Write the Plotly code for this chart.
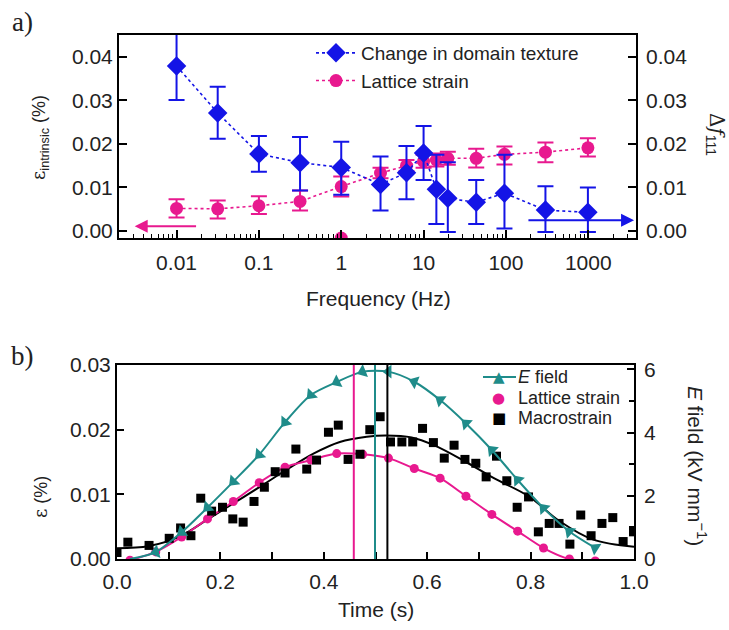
import math
import plotly.graph_objects as go

# ---------------- Panel a data ----------------
freq_domain = [0.01, 0.0316, 0.1, 0.316, 1.0, 3.0, 6.2, 10.0, 14.3, 19.7, 43.6, 96.0, 302.0, 990.0]
domain_texture = [0.0379, 0.0271, 0.0177, 0.0157, 0.0146, 0.0107, 0.0134, 0.0179, 0.0096, 0.0075, 0.0066, 0.0087, 0.0048, 0.0043]
domain_err_plus = [0.0078, 0.0060, 0.0041, 0.0059, 0.0059, 0.0064, 0.0061, 0.0062, 0.0079, 0.0083, 0.0051, 0.0088, 0.0055, 0.0057]
domain_err_minus = [0.0078, 0.0059, 0.0041, 0.0064, 0.0063, 0.0060, 0.0061, 0.0062, 0.0080, 0.0077, 0.0050, 0.0081, 0.0050, 0.0045]

freq_lattice = [0.01, 0.0316, 0.1, 0.316, 1.0, 3.0, 6.2, 10.0, 14.3, 19.7, 43.6, 96.0, 302.0, 990.0]
lattice_a = [0.0052, 0.0051, 0.0058, 0.0068, 0.0102, 0.0133, 0.0150, 0.0160, 0.0163, 0.0167, 0.0167, 0.0176, 0.0181, 0.0191]
lattice_err_plus = [0.0021, 0.0019, 0.0022, 0.0025, 0.0023, 0.0012, 0.0013, 0.0015, 0.0015, 0.0015, 0.0022, 0.0018, 0.0022, 0.0022]
lattice_err_minus = [0.0021, 0.0022, 0.0019, 0.0021, 0.0023, 0.0012, 0.0013, 0.0015, 0.0015, 0.0015, 0.0021, 0.0023, 0.0023, 0.0020]
stray_freq = [1.0]
stray_val = [-0.0016]

freq_ticks = [0.01, 0.1, 1, 10, 100, 1000]
freq_ticktext = ["0.01", "0.1", "1", "10", "100", "1000"]
eps_a_ticks = [0.0, 0.01, 0.02, 0.03, 0.04]
eps_a_ticktext = ["0.00", "0.01", "0.02", "0.03", "0.04"]

# ---------------- Panel b data ----------------
efield_t = [0.025, 0.075, 0.125, 0.175, 0.225, 0.275, 0.325, 0.375, 0.425, 0.475, 0.525,
            0.575, 0.625, 0.675, 0.725, 0.775, 0.825, 0.875, 0.925]
efield = [0.0, 0.22, 0.85, 1.63, 2.45, 3.3, 4.33, 5.19, 5.6, 5.93, 5.93,
          5.61, 5.03, 4.29, 3.45, 2.5, 1.61, 0.87, 0.35]

lattice_t = [0.025, 0.075, 0.125, 0.175, 0.225, 0.275, 0.325, 0.375, 0.425, 0.475, 0.525,
             0.575, 0.625, 0.675, 0.725, 0.775, 0.825, 0.875, 0.925]
lattice_b = [-0.0002, 0.0011, 0.0034, 0.0062, 0.0089, 0.0118, 0.0142, 0.0153, 0.0163, 0.0162, 0.0156,
             0.0140, 0.0125, 0.0097, 0.0069, 0.0043, 0.0017, 0.0000, -0.0003]

macro_t = [0.0, 0.021, 0.062, 0.101, 0.123, 0.143, 0.162, 0.183, 0.204, 0.224,
           0.244, 0.265, 0.285, 0.306, 0.325, 0.346, 0.367, 0.386, 0.409, 0.428,
           0.447, 0.470, 0.489, 0.509, 0.529, 0.551, 0.572, 0.591, 0.612, 0.633,
           0.652, 0.673, 0.694, 0.714, 0.734, 0.754, 0.774, 0.796, 0.815, 0.836,
           0.855, 0.876, 0.897, 0.917, 0.938, 0.959, 0.979, 0.999]
macrostrain = [0.0010, 0.0026, 0.0021, 0.0032, 0.0048, 0.0036, 0.0094, 0.0074, 0.0080, 0.0062,
               0.0057, 0.0089, 0.0111, 0.0135, 0.0133, 0.0170, 0.0139, 0.0153, 0.0196, 0.0207,
               0.0154, 0.0162, 0.0200, 0.0220, 0.0181, 0.0181, 0.0181, 0.0202, 0.0180, 0.0156,
               0.0176, 0.0154, 0.0148, 0.0127, 0.0159, 0.0121, 0.0080, 0.0096, 0.0042, 0.0055,
               0.0055, 0.0023, 0.0068, 0.0036, 0.0055, 0.0064, 0.0027, 0.0042]

macro_fit_t = [0.0, 0.062, 0.122, 0.173, 0.225, 0.277, 0.328, 0.38, 0.431, 0.483, 0.52,
               0.57, 0.613, 0.675, 0.729, 0.796, 0.857, 0.921, 1.0]
macro_fit = [0.00165, 0.0020, 0.0035, 0.0060, 0.0086, 0.0112, 0.0138, 0.0163, 0.0181, 0.0189, 0.0191,
             0.0188, 0.0176, 0.0150, 0.0125, 0.0097, 0.0058, 0.0030, 0.0019]

peak_times = [0.458, 0.499, 0.523]

time_ticks = [0.0, 0.2, 0.4, 0.6, 0.8, 1.0]
time_ticktext = ["0.0", "0.2", "0.4", "0.6", "0.8", "1.0"]
eps_b_ticks = [0.0, 0.01, 0.02, 0.03]
eps_b_ticktext = ["0.00", "0.01", "0.02", "0.03"]
efield_ticks = [0, 2, 4, 6]

legend_b_labels = ["<i>E</i> field", "Lattice strain", "Macrostrain"]

# ---------------- styles ----------------
BLUE = "#1414e6"
PINK = "#e8198f"
TEAL = "#1f8c8a"
BLACK = "#000000"
TXT = "#222222"
W, H = 729, 630

def fx(px):
    return px / W

def fy(py):
    return (H - py) / H

fig = go.Figure()

# Panel a traces (pink below, blue on top)
fig.add_trace(go.Scatter(
    x=freq_lattice, y=lattice_a, mode="lines+markers", name="Lattice strain", legendrank=2,
    line=dict(color=PINK, width=1.6, dash="dot"),
    marker=dict(symbol="circle", size=13, color=PINK),
    error_y=dict(type="data", symmetric=False, array=lattice_err_plus, arrayminus=lattice_err_minus,
                 color=PINK, thickness=2, width=8),
    xaxis="x", yaxis="y"))
fig.add_trace(go.Scatter(
    x=stray_freq, y=stray_val, mode="markers", showlegend=False,
    marker=dict(symbol="circle", size=13, color=PINK), xaxis="x", yaxis="y"))
fig.add_trace(go.Scatter(
    x=freq_domain, y=domain_texture, mode="lines+markers", name="Change in domain texture", legendrank=1,
    line=dict(color=BLUE, width=1.6, dash="dot"),
    marker=dict(symbol="diamond", size=15, color=BLUE),
    error_y=dict(type="data", symmetric=False, array=domain_err_plus, arrayminus=domain_err_minus,
                 color=BLUE, thickness=2, width=8),
    xaxis="x", yaxis="y"))
fig.add_trace(go.Scatter(
    x=freq_lattice, y=lattice_a, mode="markers", showlegend=False, hoverinfo="skip",
    marker=dict(opacity=0), xaxis="x", yaxis="y2"))

# Panel b traces
fig.add_trace(go.Scatter(
    x=macro_fit_t, y=macro_fit, mode="lines", showlegend=False,
    line=dict(color=BLACK, width=2, shape="spline", smoothing=1.0), xaxis="x2", yaxis="y3"))
fig.add_trace(go.Scatter(
    x=lattice_t, y=lattice_b, mode="lines", showlegend=False,
    line=dict(color=PINK, width=2, shape="spline", smoothing=0.8), xaxis="x2", yaxis="y3"))
fig.add_trace(go.Scatter(
    x=efield_t, y=efield, mode="lines+markers", name="E field", showlegend=False,
    line=dict(color=TEAL, width=2, shape="spline", smoothing=0.8),
    marker=dict(symbol="triangle-up", size=12, color=TEAL, angleref="previous", angle=180),
    xaxis="x2", yaxis="y4"))
fig.add_trace(go.Scatter(
    x=lattice_t, y=lattice_b, mode="markers", name="Lattice strain", showlegend=False,
    marker=dict(symbol="circle", size=9, color=PINK),
    xaxis="x2", yaxis="y3"))
fig.add_trace(go.Scatter(
    x=macro_t, y=macrostrain, mode="markers", name="Macrostrain", showlegend=False,
    marker=dict(symbol="square", size=9, color=BLACK),
    xaxis="x2", yaxis="y3"))

for t, c in zip(peak_times, [PINK, TEAL, BLACK]):
    fig.add_shape(type="line", xref="x2", yref="y3 domain", x0=t, x1=t, y0=0, y1=1,
                  line=dict(color=c, width=2))

minor_log = [k * 10 ** d for d in range(-3, 4) for k in range(2, 10)]
minor_log = [v for v in minor_log if 0.002 <= v <= 3800]

axis_common = dict(showline=True, linecolor=BLACK, linewidth=2, showgrid=False, zeroline=False,
                   ticks="inside", tickcolor=BLACK, tickwidth=1.5, automargin=False,
                   tickfont=dict(size=21, color=TXT))
right_common = dict(showline=False, showgrid=False, zeroline=False, ticks="inside", tickcolor=BLACK,
                    tickwidth=1.5, automargin=False, ticklabelstandoff=9,
                    tickfont=dict(size=21, color=TXT))

fig.update_layout(
    width=W, height=H, margin=dict(l=0, r=0, t=0, b=0, pad=0, autoexpand=False),
    paper_bgcolor="white", plot_bgcolor="white",
    font=dict(family="Liberation Sans, Arial, sans-serif", size=21, color=TXT),
    showlegend=True,
    xaxis=dict(type="log", domain=[fx(119), fx(636)], range=[math.log10(0.002), math.log10(3800)],
               tickvals=freq_ticks, ticktext=freq_ticktext, ticklen=8, mirror=True, anchor="y",
               ticklabelstandoff=5,
               minor=dict(tickvals=minor_log, ticks="inside", ticklen=4, tickwidth=1.2,
                          tickcolor=BLACK, showgrid=False),
               **axis_common),
    yaxis=dict(domain=[fy(238), fy(35)], range=[-0.0016, 0.045], tickvals=eps_a_ticks,
               ticktext=eps_a_ticktext, ticklen=8, mirror=True, anchor="x", **axis_common),
    yaxis2=dict(overlaying="y", side="right", range=[-0.0016, 0.045], tickvals=eps_a_ticks,
                ticktext=eps_a_ticktext, ticklen=8, anchor="x", **right_common),
    xaxis2=dict(domain=[fx(117), fx(634)], range=[0, 1.0], tickvals=time_ticks, ticktext=time_ticktext,
                ticklen=7, mirror=True, anchor="y3", ticklabelstandoff=3,
                minor=dict(dtick=0.1, tick0=0, ticks="inside", ticklen=7, tickwidth=1.5,
                           tickcolor=BLACK, showgrid=False),
                **axis_common),
    yaxis3=dict(domain=[fy(559), fy(365)], range=[0, 0.03], tickvals=eps_b_ticks,
                ticktext=eps_b_ticktext, ticklen=7, mirror=True, anchor="x2", **axis_common),
    yaxis4=dict(overlaying="y3", side="right", range=[0, 6.14], tickvals=efield_ticks, ticklen=7,
                anchor="x2",
                minor=dict(dtick=1, tick0=0, ticks="inside", ticklen=5, tickwidth=1.5,
                           tickcolor=BLACK, showgrid=False),
                **right_common),
    legend=dict(x=fx(311), y=fy(34), xanchor="left", yanchor="top", bgcolor="rgba(0,0,0,0)",
                font=dict(size=19, color=TXT), tracegroupgap=0, itemwidth=40),
)

ann = []
# arrows in panel a
ann.append(dict(xref="x", yref="y", axref="x", ayref="y",
                x=math.log10(0.0031), y=0.0011, ax=math.log10(0.018), ay=0.0011,
                showarrow=True, arrowhead=2, arrowsize=1.3, arrowwidth=2, arrowcolor=PINK, text=""))
ann.append(dict(xref="x", yref="y", axref="x", ayref="y",
                x=math.log10(3600), y=0.0025, ax=math.log10(180), ay=0.0025,
                showarrow=True, arrowhead=2, arrowsize=1.3, arrowwidth=2, arrowcolor=BLUE, text=""))

def label(px, py, text, size, family=None, angle=0, xanchor="center"):
    f = dict(size=size, color=TXT)
    if family:
        f["family"] = family
    return dict(xref="paper", yref="paper", x=fx(px), y=fy(py), xanchor=xanchor, yanchor="middle",
                text=text, showarrow=False, textangle=angle, font=f)

# manual legend for panel b
leg_y = [377, 398, 418]
fig.add_shape(type="line", xref="paper", yref="paper", x0=fx(483), x1=fx(516),
              y0=fy(leg_y[0]), y1=fy(leg_y[0]), line=dict(color=TEAL, width=2))
for glyph, col, yy in zip(["▲", "●", "■"], [TEAL, PINK, BLACK], leg_y):
    a = label(499, yy, glyph, 15, family="DejaVu Sans")
    a["font"]["color"] = col
    ann.append(a)
for lab, yy in zip(legend_b_labels, leg_y):
    ann.append(label(516, yy, lab, 18, xanchor="left"))

SERIF = "DejaVu Serif"
ann.append(label(22, 22, "a)", 27, family="Liberation Serif"))
ann.append(label(22, 356, "b)", 27, family="Liberation Serif"))
ann.append(label(378, 298, "Frequency (Hz)", 21))
ann.append(label(376, 609, "Time (s)", 21))
ann.append(label(40, 138, f'<span style="font-family:{SERIF}">ε</span><sub>intrinsic</sub> (%)', 18, angle=-90))
ann.append(label(716, 134, f'<span style="font-family:{SERIF}">Δ<i>f</i></span><sub>111</sub>', 20, angle=90))
ann.append(label(40, 497, f'<span style="font-family:{SERIF}">ε</span> (%)', 18, angle=-90))
ann.append(label(697, 466, "<i>E</i> field (kV mm<sup>−1</sup>)", 21, angle=90))
fig.update_layout(annotations=ann)

fig.write_html("out.html")
